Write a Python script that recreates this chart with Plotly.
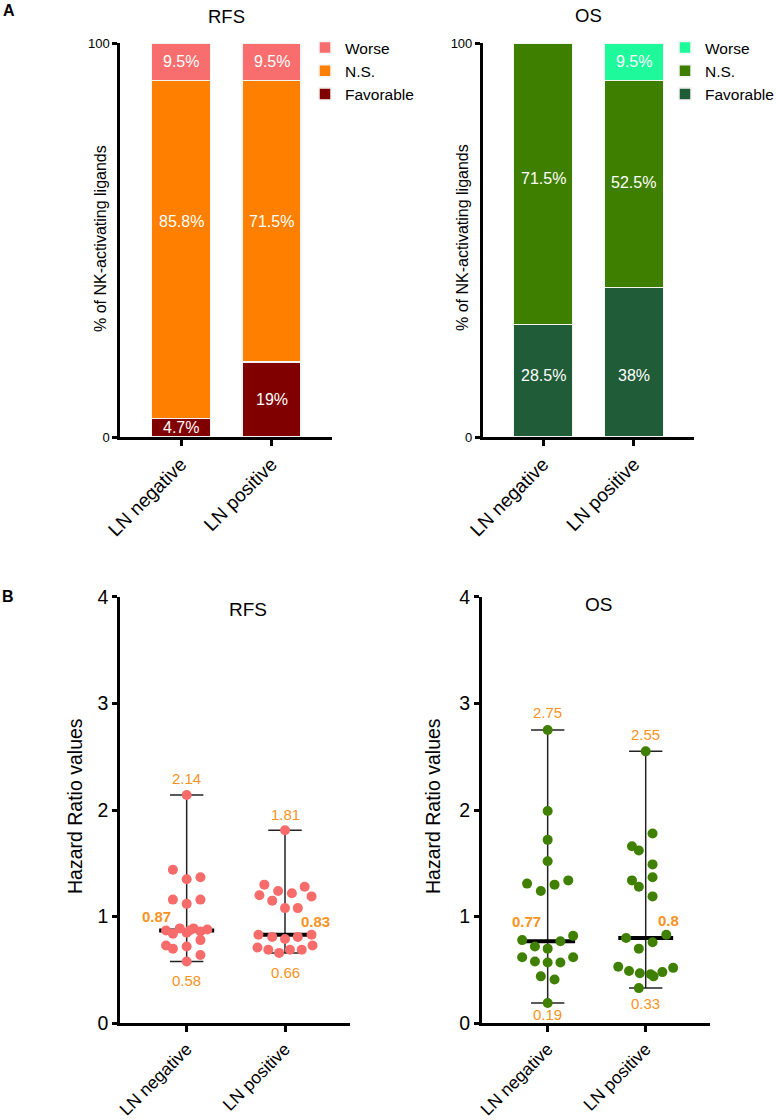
import plotly.graph_objects as go

# ---------------- DATA ----------------
groups = ["LN negative", "LN positive"]
outcomes = ["Favorable", "N.S.", "Worse"]

# Panel A: % of NK-activating ligands
rfs_pct = {"Favorable": [4.7, 19], "N.S.": [85.8, 71.5], "Worse": [9.5, 9.5]}
os_pct = {"Favorable": [28.5, 38], "N.S.": [71.5, 52.5], "Worse": [0, 9.5]}

# Panel B: hazard ratio values per ligand
rfs_neg_hr = [2.14, 1.44, 1.35, 1.37, 1.16, 1.12, 1.16, 0.87, 0.84, 0.89, 0.85,
              0.89, 0.86, 0.88, 0.87, 0.78, 0.73, 0.70, 0.72, 0.64, 0.58]
rfs_pos_hr = [1.81, 1.30, 1.24, 1.22, 1.28, 1.20, 1.15, 1.19, 1.08, 1.08, 0.83,
              0.81, 0.79, 0.81, 0.83, 0.71, 0.69, 0.66, 0.69, 0.69, 0.73]
os_neg_hr = [2.75, 1.99, 1.72, 1.52, 1.31, 1.24, 1.30, 1.34, 0.78, 0.72, 0.70,
             0.77, 0.82, 0.62, 0.58, 0.57, 0.57, 0.62, 0.44, 0.41, 0.19]
os_pos_hr = [2.55, 1.78, 1.66, 1.62, 1.49, 1.37, 1.34, 1.28, 1.19, 0.80, 0.76,
             0.83, 0.70, 0.53, 0.49, 0.47, 0.46, 0.44, 0.48, 0.52, 0.33]
rfs_median = [0.87, 0.83]
os_median = [0.77, 0.8]

# ---------------- LAYOUT POSITIONS (not data) ----------------
rfs_neg_jit = [0, -0.14, 0, 0.14, -0.14, 0, 0.14, -0.21, -0.14, -0.07, 0,
               0.07, 0.14, 0.21, 0.03, 0.14, -0.21, -0.14, 0, 0.14, 0]
rfs_pos_jit = [0, -0.21, -0.07, 0.07, 0.2, -0.26, -0.13, 0.27, 0, 0.13, -0.27,
               -0.13, 0, 0.13, 0.27, -0.28, -0.17, -0.06, 0.05, 0.17, 0.28]
os_neg_jit = [0, 0, 0, 0, -0.21, -0.07, 0.07, 0.21, -0.26, -0.13, 0,
              0.13, 0.26, -0.26, -0.13, 0, 0.13, 0.26, -0.07, 0.07, 0]
os_pos_jit = [0, 0.07, -0.14, -0.07, 0.07, 0.07, -0.14, -0.07, 0.07, -0.2, 0.07,
              0.21, -0.07, -0.28, -0.17, -0.06, 0.05, 0.08, 0.17, 0.28, -0.07]
# label heights inside bars (percent units)
rfs_label_y = {"Favorable": [2.35, 9.5], "N.S.": [54.6, 54.75], "Worse": [95.25, 95.25]}
os_label_y = {"Favorable": [15.7, 15.5], "N.S.": [65.7, 64.7], "Worse": [95.25, 95.25]}
# pixel shifts of the max / min / median labels
rfs_shift = {"max": [17, 16], "min": [-19, -20], "med": [(-30, 14), (30, 13)]}
os_shift = {"max": [18, 17], "min": [-11, -15], "med": [(-21, 20), (23, 17)]}

FONT = "Liberation Sans, Arial, sans-serif"
ORANGE = "#F7931E"
W, H = 776, 1120
rfs_colors = {"Favorable": "#800000", "N.S.": "#FF8000", "Worse": "#F86E6E"}
os_colors = {"Favorable": "#1F5C37", "N.S.": "#3F7F00", "Worse": "#1DF99B"}
RFS_DOT = "#F86B6B"
OS_DOT = "#3F8000"

def px(x):
    return x / W

def py(y):
    return 1 - y / H

fig = go.Figure()
xpos = [0, 1]

# ---------------- Panel A bars ----------------
for pct, colors, xa, ya, leg in [(rfs_pct, rfs_colors, "x", "y", "legend"),
                                 (os_pct, os_colors, "x2", "y2", "legend2")]:
    for oc in outcomes:
        fig.add_trace(go.Bar(
            x=xpos, y=pct[oc], name=oc, marker=dict(color=colors[oc],
            line=dict(color="#F4F4F4", width=1.5)),
            width=0.65, xaxis=xa, yaxis=ya, legend=leg, legendgroup=leg + oc,
            hoverinfo="skip"))

annotations = []
for pct, ly, xa, ya in [(rfs_pct, rfs_label_y, "x", "y"), (os_pct, os_label_y, "x2", "y2")]:
    for oc in outcomes:
        for i, v in enumerate(pct[oc]):
            if v > 0:
                annotations.append(dict(x=xpos[i], y=ly[oc][i], xref=xa, yref=ya,
                                        text=f"{v:g}%", showarrow=False,
                                        font=dict(family=FONT, size=16, color="white")))

# ---------------- Panel B scatter ----------------
def add_scatter(neg, pos, jneg, jpos, med, color, xa, ya, sh):
    for i, (vals, jit) in enumerate([(neg, jneg), (pos, jpos)]):
        lo, hi = min(vals), max(vals)
        fig.add_trace(go.Scatter(x=[i, i], y=[lo, hi], mode="lines",
                                 line=dict(color="#222", width=1.5),
                                 xaxis=xa, yaxis=ya, showlegend=False, hoverinfo="skip"))
        for v in (lo, hi):
            fig.add_trace(go.Scatter(x=[i - 0.17, i + 0.17], y=[v, v], mode="lines",
                                     line=dict(color="#222", width=1.5),
                                     xaxis=xa, yaxis=ya, showlegend=False, hoverinfo="skip"))
        fig.add_trace(go.Scatter(x=[i - 0.28, i + 0.28], y=[med[i], med[i]], mode="lines",
                                 line=dict(color="black", width=4),
                                 xaxis=xa, yaxis=ya, showlegend=False, hoverinfo="skip"))
        fig.add_trace(go.Scatter(x=[i + j for j in jit], y=vals, mode="markers",
                                 marker=dict(color=color, size=10),
                                 xaxis=xa, yaxis=ya, showlegend=False, hoverinfo="skip"))
        annotations.append(dict(x=i, y=hi, xref=xa, yref=ya, text=f"{hi:g}",
                                showarrow=False, yshift=sh["max"][i],
                                font=dict(family=FONT, size=15, color=ORANGE)))
        annotations.append(dict(x=i, y=lo, xref=xa, yref=ya, text=f"{lo:g}",
                                showarrow=False, yshift=sh["min"][i],
                                font=dict(family=FONT, size=15, color=ORANGE)))
        sx, sy = sh["med"][i]
        annotations.append(dict(x=i, y=med[i], xref=xa, yref=ya, text=f"<b>{med[i]:g}</b>",
                                showarrow=False, xshift=sx, yshift=sy,
                                font=dict(family=FONT, size=15, color=ORANGE)))

add_scatter(rfs_neg_hr, rfs_pos_hr, rfs_neg_jit, rfs_pos_jit, rfs_median, RFS_DOT,
            "x3", "y3", rfs_shift)
add_scatter(os_neg_hr, os_pos_hr, os_neg_jit, os_pos_jit, os_median, OS_DOT,
            "x4", "y4", os_shift)

# ---------------- Texts ----------------
def txt(x, y, s, size, angle=0, bold=False, color="black"):
    annotations.append(dict(x=px(x), y=py(y), xref="paper", yref="paper",
                            text=f"<b>{s}</b>" if bold else s, showarrow=False,
                            textangle=angle, xanchor="center", yanchor="middle",
                            font=dict(family=FONT, size=size, color=color)))

txt(9, 11, "A", 16, bold=True)
txt(8, 596, "B", 16, bold=True)
txt(226, 17, "RFS", 18.5)
txt(588, 16, "OS", 18.5)
txt(248, 609, "RFS", 19)
txt(598, 604, "OS", 19)
txt(100, 238, "% of NK-activating ligands", 16, angle=-90)
txt(462, 238, "% of NK-activating ligands", 16, angle=-90)
txt(75, 806, "Hazard Ratio values", 19.5, angle=-90)
txt(433, 806, "Hazard Ratio values", 19.5, angle=-90)

# ---------------- Axes ----------------
def xaxis(d0, d1, r0, r1, anchor, size):
    return dict(domain=[px(d0), px(d1)], range=[r0, r1], anchor=anchor,
                tickvals=xpos, ticktext=groups, tickangle=-45,
                showline=True, linecolor="black", linewidth=2.5, ticks="outside",
                ticklen=6, tickwidth=2.5, tickcolor="black", showgrid=False,
                zeroline=False, fixedrange=True, automargin=False,
                tickfont=dict(family=FONT, size=size, color="black"))

def yaxis(top, bottom, rng, tv, anchor, size):
    return dict(domain=[py(bottom), py(top)], range=rng, anchor=anchor,
                tickvals=tv, showline=True, linecolor="black", linewidth=2.5,
                ticks="outside", ticklen=5, tickwidth=2.5, tickcolor="black",
                showgrid=False, zeroline=False, fixedrange=True, automargin=False,
                tickfont=dict(family=FONT, size=size, color="black"))

fig.update_layout(
    width=W, height=H, margin=dict(l=0, r=0, t=0, b=0, autoexpand=False),
    paper_bgcolor="white", plot_bgcolor="white", barmode="stack",
    xaxis=xaxis(120, 332, -0.674, 1.668, "y", 19),
    yaxis=yaxis(43, 437, [0, 100], [0, 100], "x", 13),
    xaxis2=xaxis(482.7, 694, -0.663, 1.66, "y2", 19),
    yaxis2=yaxis(43, 437, [0, 100], [0, 100], "x2", 13),
    xaxis3=xaxis(120, 350, -0.678, 1.661, "y3", 17.5),
    yaxis3=yaxis(596.7, 1023.3, [0, 4], [0, 1, 2, 3, 4], "x3", 19.5),
    xaxis4=xaxis(481.7, 710, -0.673, 1.656, "y4", 17.5),
    yaxis4=yaxis(596.7, 1023.3, [0, 4], [0, 1, 2, 3, 4], "x4", 19.5),
    legend=dict(x=px(305), y=py(31), xanchor="left", yanchor="top",
                traceorder="reversed", tracegroupgap=9.5, bgcolor="rgba(0,0,0,0)",
                font=dict(family=FONT, size=15.5, color="black")),
    legend2=dict(x=px(665), y=py(31), xanchor="left", yanchor="top",
                 traceorder="reversed", tracegroupgap=9.5, bgcolor="rgba(0,0,0,0)",
                 font=dict(family=FONT, size=15.5, color="black")),
    annotations=annotations,
    showlegend=True,
)

fig.write_html("out.html", config={"displayModeBar": False},
               post_script="document.body.style.margin='0';document.body.style.padding='0';")
